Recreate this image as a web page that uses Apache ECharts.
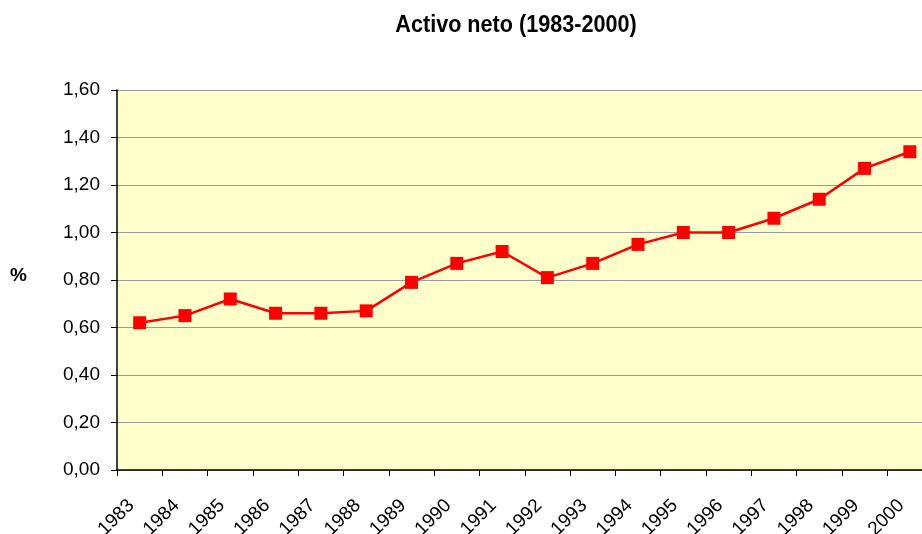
<!DOCTYPE html>
<html>
<head>
<meta charset="utf-8">
<script src="https://cdn.jsdelivr.net/npm/echarts@6/dist/echarts.min.js"></script>
<style>
  html, body { margin: 0; padding: 0; background: #fff; overflow: hidden; }
  #chart { width: 922px; height: 534px; }
</style>
</head>
<body>
<div id="chart"></div>
<script>
const years = ["1983", "1984", "1985", "1986", "1987", "1988", "1989", "1990", "1991",
               "1992", "1993", "1994", "1995", "1996", "1997", "1998", "1999", "2000"];
const activoNeto = [0.62, 0.65, 0.72, 0.66, 0.66, 0.67, 0.79, 0.87, 0.92,
                    0.81, 0.87, 0.95, 1.00, 1.00, 1.06, 1.14, 1.27, 1.34];
const yTicks = [0, 0.2, 0.4, 0.6, 0.8, 1.0, 1.2, 1.4, 1.6];

const chart = echarts.init(document.getElementById("chart"));

const opts = {
    animation: false,
    backgroundColor: "#ffffff",
    graphic: [{
        type: "text",
        x: 516,
        y: 13,
        scaleX: 0.9,
        style: {
            text: "Activo neto (1983-2000)",
            align: "center",
            font: "bold 24px 'Liberation Sans', Arial, sans-serif",
            fill: "#000"
        }
    }, {
        type: "text",
        left: 10,
        top: 266,
        style: { text: "%", font: "bold 19px 'Liberation Sans', Arial, sans-serif", fill: "#000" }
    }],
    // plot area runs past the right edge of the picture, so no clamping to the container
    grid: {
        left: 117,
        top: 90,
        width: 815.5,
        height: 380,
        outerBoundsMode: "none",
        containLabel: false,
        show: true,
        backgroundColor: "#FFFFCC",
        borderWidth: 0
    },
    xAxis: {
        type: "category",
        data: years,
        boundaryGap: true,
        axisLine: { lineStyle: { color: "#000", width: 1.5 } },
        axisTick: { show: true, length: 6, lineStyle: { color: "#000" } },
        axisLabel: {
            rotate: 45,
            interval: 0,
            margin: 24,
            padding: [0, 12, 0, 0],
            color: "#000",
            fontFamily: "Liberation Sans, Arial, sans-serif",
            fontSize: 19
        }
    },
    yAxis: {
        type: "value",
        min: yTicks[0],
        max: yTicks[yTicks.length - 1],
        interval: 0.2,
        axisLine: { show: true, lineStyle: { color: "#000", width: 1.5 } },
        axisTick: { show: true, length: 6, lineStyle: { color: "#000" } },
        axisLabel: {
            margin: 17,
            color: "#000",
            fontFamily: "Liberation Sans, Arial, sans-serif",
            fontSize: 19,
            formatter: v => v.toFixed(2).replace(".", ",")
        },
        splitLine: { show: true, lineStyle: { color: "#9a9a9a", width: 1 } }
    },
    series: [{
        type: "line",
        data: activoNeto,
        symbol: "rect",
        symbolSize: 13,
        itemStyle: { color: "#FF0000" },
        lineStyle: { color: "#FF0000", width: 2.5 }
    }]
};

chart.setOption(opts);
</script>
</body>
</html>
